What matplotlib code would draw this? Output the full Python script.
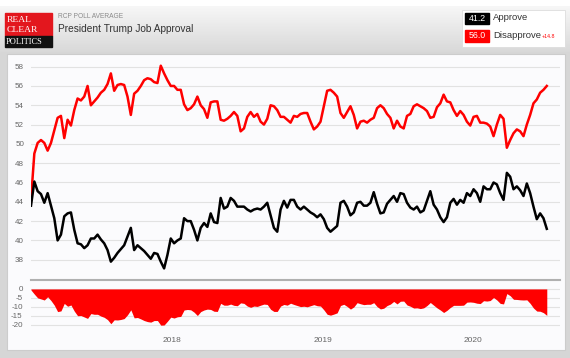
import numpy as np
import pandas as pd
import matplotlib
matplotlib.use('Agg')
import matplotlib.pyplot as plt
import matplotlib.dates as mdates
from matplotlib.patches import Rectangle
from matplotlib.colors import LinearSegmentedColormap

plt.rcParams['font.family'] = ['Liberation Sans', 'DejaVu Sans']
plt.rcParams['axes.unicode_minus'] = False

# Promedio RCP (~ cada 8 dias)
fechas = pd.date_range('2017-01-25', '2020-06-27', periods=156)

approve = [
    43.6, 46.1, 45.1, 44.8, 43.9, 44.9, 43.6, 42.3, 40.0, 40.6, 42.5, 42.8, 42.9,
    41.1, 39.7, 39.6, 39.2, 39.5, 40.2, 40.2, 40.6, 40.1, 39.7, 39.0, 37.8, 38.2,
    38.7, 39.1, 39.5, 40.4, 41.3, 39.0, 39.5, 39.2, 38.9, 38.5, 38.1, 38.7,
    38.6, 37.8, 37.1, 38.5, 40.2, 39.7, 40.0, 40.2, 42.3, 42.0, 42.0, 41.1, 40.0,
    41.3, 41.8, 41.4, 42.8, 41.9, 41.8, 44.4, 43.3, 43.5, 44.4, 44.1, 43.5, 43.5,
    43.5, 43.2, 43.0, 43.2, 43.3, 43.2, 43.5, 43.9, 42.6, 41.3, 40.9, 43.2, 44.1,
    43.4, 44.2, 44.2, 43.5, 43.2, 43.5, 43.2, 42.9, 42.7, 42.4, 42.7, 42.2, 41.3,
    40.9, 41.2, 41.5, 43.9, 44.1, 43.5, 42.6, 42.9, 43.9, 44.0, 43.6, 43.6, 43.9,
    45.0, 43.8, 42.8, 42.9, 43.8, 44.2, 44.6, 44.0, 44.9, 44.8, 43.9, 43.4, 43.2,
    43.5, 42.9, 43.1, 44.1, 45.1, 43.7, 43.2, 42.4, 41.9, 42.4, 43.9, 44.3, 43.7,
    44.2, 43.9, 44.9, 44.6, 45.3, 44.9, 44.0, 45.6, 45.3, 45.3, 46.0, 45.8, 44.9,
    44.2, 47.0, 46.6, 45.3, 45.6, 45.2, 44.6, 45.9, 44.9, 43.5, 42.2, 42.8, 42.3,
    41.2,
]

disapprove = [
    44.2, 49.0, 50.1, 50.4, 50.1, 49.3, 50.1, 51.4, 52.7, 52.9, 50.6, 52.5, 51.9,
    53.5, 54.7, 54.5, 54.9, 56.0, 54.0, 54.4, 54.8, 55.3, 55.6, 56.2, 57.3, 55.5,
    56.1, 56.2, 56.1, 54.9, 53.0, 55.2, 55.5, 56.0, 56.6, 56.8, 56.7, 56.4,
    56.3, 58.1, 57.3, 56.6, 56.0, 56.0, 55.6, 55.6, 54.1, 53.5, 53.7, 54.1, 54.9,
    54.0, 53.6, 52.7, 54.3, 54.4, 54.4, 52.5, 52.4, 52.6, 52.9, 53.3, 52.9, 51.3,
    51.6, 52.8, 53.3, 52.8, 53.1, 52.3, 52.0, 52.6, 54.0, 53.9, 53.5, 52.8, 52.8,
    52.5, 52.2, 52.9, 52.8, 53.1, 53.2, 53.2, 52.3, 51.5, 51.8, 52.3, 53.9, 55.5,
    55.6, 55.3, 54.9, 53.2, 52.7, 53.3, 53.9, 53.0, 51.6, 52.3, 52.4, 52.2, 52.5,
    52.7, 53.7, 54.0, 53.7, 53.1, 52.7, 51.6, 52.4, 51.8, 51.6, 52.9, 53.1, 53.9,
    54.1, 53.9, 53.7, 53.4, 52.7, 52.8, 53.8, 54.2, 55.1, 54.4, 54.3, 53.5, 52.9,
    53.4, 53.0, 52.3, 51.9, 52.8, 52.9, 52.2, 52.2, 52.1, 51.8, 50.8, 52.0, 53.0,
    52.6, 49.6, 50.4, 51.1, 51.5, 51.3, 50.8, 52.0, 53.0, 54.2, 54.6, 55.3, 55.6,
    56.0,
]

spread = np.array(approve) - np.array(disapprove)

year_ticks = pd.to_datetime(['2018-01-01', '2019-01-01', '2020-01-01'])
year_labels = ['2018', '2019', '2020']
main_ticks = list(range(38, 59, 2))
spread_ticks = [0, -5, -10, -15, -20]

ultimo_approve = '41.2'
ultimo_disapprove = '56.0'
ultimo_spread = '+14.8'

W, H = 570, 358
fig = plt.figure(figsize=(W / 100, H / 100), dpi=100)


def caja(l, t, r, b):
    # caja en pixeles -> fraccion de figura
    return [l / W, 1 - b / H, (r - l) / W, (b - t) / H]


# fondo, cabecera y marco
bg = fig.add_axes([0, 0, 1, 1], zorder=-5)
bg.axis('off')
bg.add_patch(Rectangle((0, 52), W, H - 52, color='#d6d6d6'))
bg.add_patch(Rectangle((7, 54), 558, 296, facecolor='#fbfbfd', edgecolor='#cccccc', lw=0.8))
grad = np.linspace(0, 1, 60).reshape(-1, 1)
cmap = LinearSegmentedColormap.from_list('hdr', ['#f7f7f7', '#d9d9d9'])
bg.imshow(grad, extent=(0, W, 52, 6), cmap=cmap, aspect='auto')
bg.set_xlim(0, W)
bg.set_ylim(H, 0)

# logo
bg.add_patch(Rectangle((5, 13), 47, 23, color='#e3171e'))
bg.add_patch(Rectangle((5, 36), 47, 11, color='#111111'))
serif = ['Liberation Serif', 'DejaVu Serif']
bg.text(7, 19.5, 'REAL', color='white', fontsize=6.8, family=serif, va='center')
bg.text(7, 29.5, 'CLEAR', color='white', fontsize=6.8, family=serif, va='center')
bg.text(6, 41.5, 'POLITICS', color='white', fontsize=6.0, family=serif, va='center')

bg.text(58, 17, 'RCP POLL AVERAGE', color='#8a8a8a', fontsize=4.8, va='center')
bg.text(58, 28.5, 'President Trump Job Approval', color='#333333', fontsize=7.3, va='center')

# leyenda
bg.add_patch(Rectangle((462, 10), 103, 37, facecolor='white', edgecolor='#dddddd', lw=0.6))
bg.add_patch(Rectangle((465, 12.5), 24, 11, color='black'))
bg.add_patch(Rectangle((465, 30), 24, 11.5, color='#ff0000'))
bg.text(477, 18.2, ultimo_approve, color='white', fontsize=6.3, ha='center', va='center')
bg.text(477, 35.9, ultimo_disapprove, color='white', fontsize=6.3, ha='center', va='center')
bg.text(493, 18, 'Approve', color='#333333', fontsize=6.8, va='center')
bg.text(493, 35.8, 'Disapprove', color='#333333', fontsize=6.8, va='center')
bg.text(542, 36.5, ultimo_spread, color='#ff0000', fontsize=3.8, va='center')

xmin = pd.Timestamp('2017-01-25')
xmax = pd.Timestamp('2020-07-29')

# grafico principal
ax = fig.add_axes(caja(31, 57, 560, 280))
ax.set_facecolor('none')
ax.plot(fechas, disapprove, color='#ff0000', lw=1.8)
ax.plot(fechas, approve, color='black', lw=1.8)
ax.set_xlim(xmin, xmax)
ax.set_ylim(35.9, 59.0)
ax.set_yticks(main_ticks)
ax.tick_params(axis='y', length=0, pad=5, labelsize=5.8, labelcolor='#666666')
ax.set_xticks([])
ax.grid(axis='y', color='#e2e2e2', lw=0.8)
ax.set_axisbelow(True)
for s in ax.spines.values():
    s.set_visible(False)

# spread
ax2 = fig.add_axes(caja(31, 280, 560, 330))
ax2.set_facecolor('none')
ax2.fill_between(fechas, spread, 0, color='#ff0000', lw=0)
ax2.set_xlim(xmin, xmax)
ax2.set_ylim(-23, 5)
ax2.set_yticks(spread_ticks)
ax2.tick_params(axis='y', length=0, pad=6, labelsize=5.8, labelcolor='#666666')
ax2.set_xticks(year_ticks)
ax2.set_xticklabels(year_labels)
ax2.tick_params(axis='x', length=0, pad=5, labelsize=6, labelcolor='#666666')
ax2.grid(axis='y', color='#e2e2e2', lw=0.8)
ax2.set_axisbelow(True)
for k, s in ax2.spines.items():
    s.set_visible(k == 'top')
ax2.spines['top'].set_color('#b0b0b0')
ax2.spines['top'].set_linewidth(1.5)

fig.savefig('out.png', dpi=100)
